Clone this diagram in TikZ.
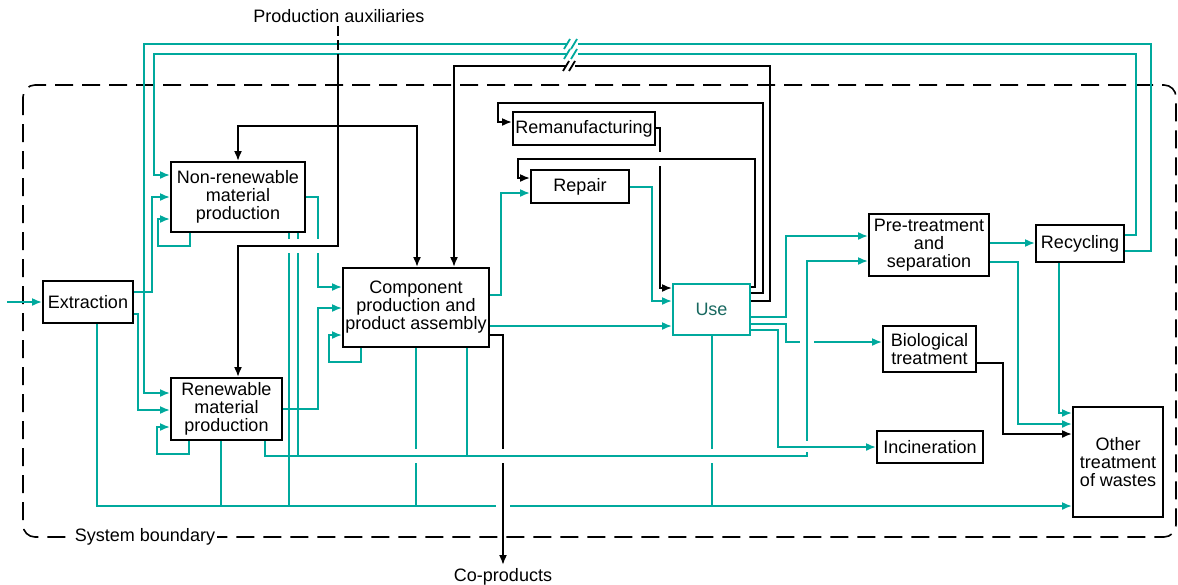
\documentclass[tikz,border=0pt]{standalone}
\usepackage{fontspec}
\setmainfont{Liberation Sans}
\usepackage{tikz}
\usetikzlibrary{arrows.meta}
\definecolor{flowteal}{RGB}{0,169,157}
\definecolor{usetext}{RGB}{25,105,96}

\begin{document}
\begin{tikzpicture}[
  x=1pt, y=-1pt,
  every node/.style={font=\fontsize{18}{18}\selectfont},
  box/.style={draw, line width=1.8pt, fill=white, align=center, inner sep=0pt},
  txt/.style={fill=white, inner sep=2pt},
  tline/.style={draw=flowteal, line width=2.9pt},
  tarrow/.style={tline, -{Latex[length=10pt,width=8pt]}},
  bline/.style={draw=black, line width=2.7pt},
  barrow/.style={bline, -{Latex[length=10pt,width=8pt]}},
  gap/.style={fill=white},
  brk/.style={line width=1.8pt},
  boundary/.style={draw, line width=1.6pt, dash pattern=on 18pt off 9pt, rounded corners=12pt}
]
\useasboundingbox (0,0) rectangle (1178,584);

\draw[boundary] (23,85) rectangle (1176,537);
\node[txt] (sysb) at (145,537) {System boundary};

\node[box, minimum width=90pt, minimum height=42pt] (ext) at (88,302) {Extraction};
\node[box, minimum width=134pt, minimum height=70pt] (nonren) at (238,197) {Non-renewable\\material\\production};
\node[box, minimum width=111pt, minimum height=62pt] (ren) at (226.5,409) {Renewable\\material\\production};
\node[box, minimum width=146pt, minimum height=79pt] (comp) at (416,307.5) {Component\\production and\\product assembly};
\node[box, minimum width=142pt, minimum height=33pt] (reman) at (584,128.5) {Remanufacturing};
\node[box, minimum width=98pt, minimum height=33pt] (repair) at (580,186.5) {Repair};
\node[box, draw=flowteal, text=usetext, minimum width=77pt, minimum height=51pt] (use) at (711.5,309.5) {Use};
\node[box, minimum width=120pt, minimum height=62pt] (pre) at (929,245) {Pre-treatment\\and\\separation};
\node[box, minimum width=88pt, minimum height=37pt] (recyc) at (1080,243.5) {Recycling};
\node[box, minimum width=93pt, minimum height=46pt] (bio) at (929.5,349) {Biological\\treatment};
\node[box, minimum width=106pt, minimum height=32pt] (incin) at (930,447) {Incineration};
\node[box, minimum width=90pt, minimum height=110pt] (other) at (1118,462) {Other\\treatment\\of wastes};

\node (aux) at (339,16) {Production auxiliaries};
\node (coprod) at (503,577) {Co-products};
\coordinate (in) at (7,302);

\draw[tarrow] (in) -- (ext);
\draw[tarrow] (ext.east |- 0,292) -| (152,197) -- (nonren.west |- 0,197);
\draw[tarrow] (ext.east |- 0,314) -| (138,410) -- (ren.west |- 0,410);
\draw[tarrow] (recyc.east |- 0,251) -| (1151,44) -| (144,393) -- (ren.west |- 0,393);
\draw[tarrow] (recyc.east |- 0,235) -| (1136,54) -| (154,175) -- (nonren.west |- 0,175);
\draw[tarrow] (nonren.south -| 190,0) -- (190,246) -| (158,219) -- (nonren.west |- 0,219);
\draw[tarrow] (ren.south -| 189,0) -- (189,454) -| (157,427) -- (ren.west |- 0,427);
\draw[tarrow] (nonren.east |- 0,197) -| (318,287) -- (comp.west |- 0,287);
\draw[tarrow] (ren.east |- 0,409) -| (318,308) -- (comp.west |- 0,308);
\draw[tarrow] (comp.south -| 361,0) -- (361,362) -| (329,335) -- (comp.west |- 0,335);
\draw[tarrow] (comp.east |- 0,295) -| (501,193) -- (repair.west |- 0,193);
\draw[tarrow] (comp.east |- 0,326) -- (use.west |- 0,326);
\draw[tarrow] (repair.east |- 0,187) -| (652,301) -- (use.west |- 0,301);
\draw[tarrow] (use.east |- 0,317) -| (786,236) -- (pre.west |- 0,236);
\draw[tarrow] (use.east |- 0,324) -| (786,342) -- (bio.west |- 0,342);
\draw[tarrow] (use.east |- 0,330) -| (778,447) -- (incin.west |- 0,447);
\draw[tarrow] (pre.east |- 0,243) -- (recyc.west |- 0,243);
\draw[tarrow] (pre.east |- 0,262) -| (1018,424) -- (other.west |- 0,424);
\draw[tarrow] (recyc.south -| 1059,0) |- (other.west |- 0,413);
\draw[tarrow] (ren.south -| 265,0) |- (807,456) |- (pre.west |- 0,261);
\draw[tline] (nonren.south -| 298,0) -- (298,456);
\draw[tline] (comp.south -| 467,0) -- (467,456);
\draw[tarrow] (ext.south -| 97,0) |- (other.west |- 0,506);
\draw[tline] (ren.south -| 221,0) -- (221,506);
\draw[tline] (nonren.south -| 289,0) -- (289,506);
\draw[tline] (comp.south -| 416,0) -- (416,506);
\draw[tline] (use.south -| 712,0) -- (712,506);

\path[gap] (708,449) rectangle (716,463);
\path[gap] (412,449) rectangle (420,463);
\path[gap] (800,338) rectangle (814,346);
\path[gap] (803,441) rectangle (811,452);
\draw[tline] (704,456) -- (720,456) (408,456) -- (424,456);
\draw[tline] (807,334) -- (807,350) (799,447) -- (815,447);
\foreach \xx in {289,298,318}
  \path[gap] (\xx-4,239) rectangle (\xx+4,253);
\path[gap] (496,501) rectangle (510,511);

\draw[bline, dash pattern=on 10pt off 4pt] (aux.south -| 338,0) -- (338,58);
\draw[barrow] (338,58) -- (338,246) -| (ren.north -| 238,0);
\draw[barrow] (338,126) -| (nonren.north);
\draw[barrow] (338,126) -| (comp.north -| 417,0);
\draw[barrow] (comp.east |- 0,335) -| (coprod.north);
\draw[barrow] (use.east |- 0,301) -| (770,66) -| (comp.north -| 454,0);
\draw[barrow] (use.east |- 0,293) -| (763,103) -| (498,122) -- (reman.west |- 0,122);
\draw[barrow] (reman.east |- 0,128) -| (660,288) -- (use.west |- 0,288);
\path[gap] (655,152) rectangle (665,166);
\draw[barrow] (use.east |- 0,287) -| (755,159) -| (518,178) -- (repair.west |- 0,178);
\draw[barrow] (bio.east |- 0,363) -| (1003,434) -- (other.west |- 0,434);

\path[gap] (499,449) rectangle (507,463);
\draw[tline] (495,456) -- (511,456);

\foreach \yy in {44,54} {
  \path[gap] (567,\yy-3) rectangle (578,\yy+3);
  \draw[flowteal, brk] (564,\yy+5) -- (570,\yy-5) (571,\yy+5) -- (577,\yy-5);
}
\path[gap] (566,62) rectangle (575,70);
\draw[brk] (563,71) -- (569,61) (569,71) -- (575,61);
\end{tikzpicture}
\end{document}
